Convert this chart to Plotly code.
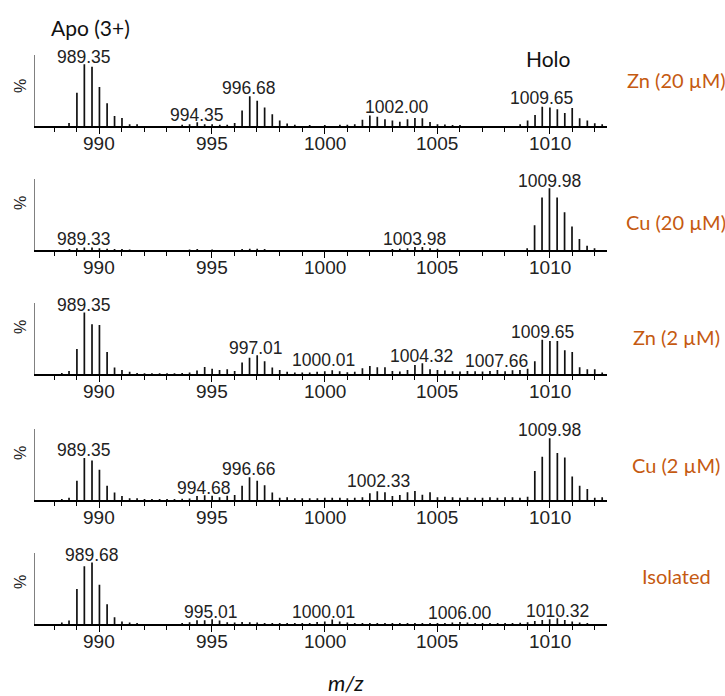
import plotly.graph_objects as go

W, H = 725, 696

# ---------------- data ----------------
panel_names = ["Zn (20 µM)", "Cu (20 µM)", "Zn (2 µM)", "Cu (2 µM)", "Isolated"]

zn20_mz = [988.66, 989.01, 989.34, 989.68, 990.01, 990.35, 990.68, 991.01, 991.35, 991.68,
           993.68, 994.01, 994.35, 994.68, 995.01, 995.35, 995.68, 996.01, 996.34, 996.68,
           997.01, 997.34, 997.68, 998.01, 998.34, 998.68, 999.34, 1000.01, 1000.68, 1001.01,
           1001.34, 1001.68, 1002.01, 1002.34, 1002.68, 1003.01, 1003.34, 1003.68, 1004.01, 1004.34,
           1004.68, 1005.01, 1005.34, 1005.68, 1006.01, 1008.68, 1009.01, 1009.34, 1009.66, 1010.00,
           1010.33, 1010.66, 1010.99, 1011.32, 1011.66, 1011.99, 1012.32]
zn20_int = [5, 54, 100, 96, 63, 37, 16, 13, 3, 3,
            2, 3, 6, 3, 3, 2, 2, 5, 25, 48,
            41, 30, 19, 9, 4, 2, 1.5, 1.5, 2, 2,
            3, 10, 17, 15, 11, 9, 7, 11, 13, 12.5,
            6.5, 3, 2.5, 1.5, 1.5, 3, 9, 18, 31, 30,
            27, 21, 29, 12.5, 9, 4.5, 3]

cu20_mz = [988.68, 989.01, 989.34, 989.68, 990.01, 990.35, 990.68, 991.01, 991.35,
           994.01, 994.35, 995.01, 996.34, 996.68, 997.01, 997.34,
           1003.01, 1003.34, 1003.68, 1004.01, 1004.34, 1004.68, 1005.01,
           1008.99, 1009.32, 1009.65, 1009.98, 1010.32, 1010.65, 1010.98, 1011.31, 1011.65, 1011.98]
cu20_int = [1.5, 3, 4, 4, 3, 2, 1.5, 1.5, 1,
            1, 1.5, 1, 1.5, 2, 2, 1.5,
            1.5, 2, 3, 5, 5, 3, 2,
            3, 40, 85, 100, 85, 61, 38, 18, 7, 3]

zn2_mz = [988.34, 988.66, 989.01, 989.34, 989.68, 990.01, 990.35, 990.68, 991.01, 991.35, 991.68,
          992.01, 992.34, 992.68, 993.01, 993.34, 993.68, 994.01,
          994.34, 994.68, 995.01, 995.34, 995.68, 996.01, 996.34, 996.67, 997.01, 997.34, 997.68,
          998.01, 998.34, 998.68, 999.01, 999.34, 999.67, 1000.01, 1000.34, 1000.67, 1001.01, 1001.34,
          1001.68, 1002.01, 1002.34, 1002.68, 1003.01, 1003.34, 1003.68, 1004.01, 1004.34, 1004.68,
          1005.01, 1005.34, 1005.68, 1006.01, 1006.34, 1006.68, 1007.01, 1007.34, 1007.67, 1008.01,
          1008.34, 1008.67, 1009.01, 1009.33, 1009.66, 1010.00, 1010.33, 1010.66, 1010.99, 1011.32,
          1011.66, 1011.99, 1012.32]
zn2_int = [2, 5.4, 41, 100, 81, 80, 36, 11, 7, 4, 2,
           1.5, 1.5, 1.5, 1.5, 1.5, 2, 3,
           6, 12, 9, 7, 8, 5.4, 19, 27, 31, 21, 11,
           7, 4, 3, 3, 3, 4, 5, 6.5, 5, 3.5, 4,
           10, 13.5, 11.4, 11.4, 5.4, 4.4, 7, 15, 18, 8,
           7, 6, 5, 4.4, 5.4, 5, 4.4, 5.4, 7, 5,
           6.5, 7, 9, 21, 56, 54, 54, 39, 36, 11.4,
           8, 8, 3]

cu2_mz = [988.34, 988.66, 989.01, 989.34, 989.68, 990.01, 990.35, 990.68, 991.01, 991.35, 991.68,
          992.01, 992.34, 992.68, 993.01, 993.34, 993.68, 994.01,
          994.34, 994.68, 995.01, 995.34, 995.68, 996.01, 996.34, 996.67, 997.01, 997.34, 997.68,
          998.01, 998.34, 998.68, 999.01, 999.34, 999.68, 1000.01, 1000.34, 1000.68, 1001.01, 1001.34,
          1001.68, 1002.01, 1002.34, 1002.68, 1003.01, 1003.34, 1003.68, 1004.01, 1004.34, 1004.68,
          1005.01, 1005.34, 1005.68, 1006.01, 1006.34, 1006.68, 1007.01, 1007.34, 1007.67, 1008.01,
          1008.34, 1008.67, 1009.01, 1009.33, 1009.66, 1009.99, 1010.33, 1010.66, 1010.99, 1011.32,
          1011.66, 1011.99, 1012.32]
cu2_int = [1.5, 3.7, 31, 68, 64, 49, 23, 12, 6.5, 3, 3,
           1.5, 1.5, 1.5, 1.5, 1.5, 2, 2.5,
           6.5, 7.6, 7, 4.4, 7, 8, 23, 37, 31, 24, 12,
           3.7, 4.4, 3, 3, 3, 3, 3.5, 3.5, 3.5, 3, 3.5,
           4.4, 11, 14, 12.5, 6.5, 8, 12.5, 14.6, 8.6, 12.5,
           4.4, 5.4, 4.4, 3.7, 4.4, 3.7, 3.7, 4.4, 3.7, 4.4,
           4.4, 3.7, 5.4, 47, 70, 100, 76, 69, 38, 23,
           18, 3.7, 4.4]

iso_mz = [988.34, 988.66, 989.01, 989.34, 989.68, 990.01, 990.35, 990.68, 991.01, 991.35, 991.68,
          993.68, 994.01, 994.34, 994.68, 995.01, 995.34, 995.68, 996.01, 996.34, 996.68,
          997.01, 997.34, 997.68, 998.01, 998.34, 998.68, 999.01, 999.34,
          999.67, 1000.01, 1000.34, 1000.67, 1001.01, 1001.34, 1001.68, 1002.01, 1002.34, 1002.68,
          1003.01, 1003.34, 1003.68, 1004.01, 1004.34, 1004.68, 1005.01, 1005.34, 1005.67, 1006.01,
          1006.34, 1006.68, 1007.01, 1007.34, 1007.68, 1008.01, 1008.34, 1008.68, 1009.01, 1009.33,
          1009.66, 1009.99, 1010.33, 1010.66, 1010.99, 1011.32, 1011.66]
iso_int = [2.8, 6, 57, 94, 100, 64, 32.5, 11.4, 4.4, 2.8, 2,
           2, 3.3, 6.5, 6.5, 8, 6, 3.3, 2.8, 3.7, 3.3,
           2.8, 2, 2, 2, 2, 2, 2, 2,
           3.7, 4.4, 7.6, 4.4, 2.8, 2, 2, 2, 2, 2,
           2, 2, 2, 2, 2, 2, 2, 2, 2.8, 3.7,
           2.8, 2, 2, 2, 2, 2, 2, 2.5, 3.3, 5.4,
           7, 8, 10, 7, 4.4, 2.8, 2]

spectra_mz = [zn20_mz, cu20_mz, zn2_mz, cu2_mz, iso_mz]
spectra_int = [zn20_int, cu20_int, zn2_int, cu2_int, iso_int]

# peak labels: text, x position (m/z), y position (% of tallest peak)
zn20_lbl = ["989.35", "994.35", "996.68", "1002.00", "1009.65"]
zn20_lbl_x = [989.33, 994.35, 996.65, 1003.2, 1009.64]
zn20_lbl_y = [112, 18, 62, 31, 45]

cu20_lbl = ["989.33", "1003.98", "1009.98"]
cu20_lbl_x = [989.31, 1004.0, 1009.99]
cu20_lbl_y = [18, 18, 111]

zn2_lbl = ["989.35", "997.01", "1000.01", "1004.32", "1007.66", "1009.65"]
zn2_lbl_x = [989.32, 996.97, 999.97, 1004.31, 1007.64, 1009.66]
zn2_lbl_y = [113, 42, 23, 30, 22, 68]

cu2_lbl = ["989.35", "994.68", "996.66", "1002.33", "1009.98"]
cu2_lbl_x = [989.32, 994.64, 996.64, 1002.38, 1009.99]
cu2_lbl_y = [81, 19, 50, 30, 113]

iso_lbl = ["989.68", "995.01", "1000.01", "1006.00", "1010.32"]
iso_lbl_x = [989.66, 994.97, 999.97, 1005.99, 1010.34]
iso_lbl_y = [113, 20, 20, 19, 22]

labels_txt = [zn20_lbl, cu20_lbl, zn2_lbl, cu2_lbl, iso_lbl]
labels_x = [zn20_lbl_x, cu20_lbl_x, zn2_lbl_x, cu2_lbl_x, iso_lbl_x]
labels_y = [zn20_lbl_y, cu20_lbl_y, zn2_lbl_y, cu2_lbl_y, iso_lbl_y]

x_range = [987.15, 1012.52]
tick_vals = [990, 995, 1000, 1005, 1010]
tick_text = ["990", "995", "1000", "1005", "1010"]

# ---------------- layout geometry (pixels) ----------------
baselines_px = [126, 250, 374.3, 500, 624.3]
axis_h_px = 71
tick_label_gap_px = 17
pct_label_px = [86, 203, 327, 453, 582]
name_label_px = [80, 222, 337, 465, 576]
x_left_px, x_right_px = 35, 606.7

ORANGE = "#C55A11"
ARIAL = "Liberation Sans, Arial, sans-serif"
CAL = "Lato, Open Sans, sans-serif"

fig = go.Figure()
annotations = []
layout = dict(
    width=W, height=H, margin=dict(l=0, r=0, t=0, b=0),
    paper_bgcolor="white", plot_bgcolor="white", showlegend=False,
)

def py(px):
    return 1 - px / H

for i in range(5):
    k = "" if i == 0 else str(i + 1)
    xs, ys = [], []
    for m, v in zip(spectra_mz[i], spectra_int[i]):
        xs += [m, m, None]
        ys += [0, v, None]
    fig.add_trace(go.Scatter(x=xs, y=ys, mode="lines", xaxis="x" + k, yaxis="y" + k,
                             line=dict(color="#111111", width=1.7), hoverinfo="skip"))
    b = baselines_px[i]
    layout["xaxis" + k] = dict(
        domain=[x_left_px / W, x_right_px / W], anchor="y" + k, range=x_range,
        showline=True, linecolor="black", linewidth=2.2 if i == 0 else 1.8,
        showgrid=False, zeroline=False,
        tickmode="array", tickvals=tick_vals, showticklabels=False,
        ticks="outside", ticklen=6, tickwidth=1.2, tickcolor="black",
        minor=dict(dtick=1, tick0=990, ticks="outside", ticklen=4, tickwidth=1, tickcolor="black"),
    )
    layout["yaxis" + k] = dict(
        domain=[py(b), py(b - axis_h_px)], anchor="x" + k, range=[0, 115],
        showline=True, linecolor="#808080", linewidth=1.2,
        showgrid=False, zeroline=False, showticklabels=False, ticks="",
    )
    for tv, tt in zip(tick_vals, tick_text):
        annotations.append(dict(x=tv, y=py(b + tick_label_gap_px), xref="x" + k, yref="paper",
                                text=tt, showarrow=False, xanchor="center", yanchor="middle",
                                font=dict(family=ARIAL, size=19, color="#222222")))
    for t, lx, ly in zip(labels_txt[i], labels_x[i], labels_y[i]):
        annotations.append(dict(x=lx, y=ly, xref="x" + k, yref="y" + k, text=t,
                                showarrow=False, xanchor="center", yanchor="middle",
                                font=dict(family=ARIAL, size=17.5, color="#222222")))
    annotations.append(dict(x=20 / W, y=py(pct_label_px[i]), xref="paper", yref="paper",
                            text="%", textangle=-90, showarrow=False,
                            xanchor="center", yanchor="middle",
                            font=dict(family=ARIAL, size=16, color="#222222")))
    annotations.append(dict(x=676 / W, y=py(name_label_px[i]), xref="paper", yref="paper",
                            text=panel_names[i], showarrow=False,
                            xanchor="center", yanchor="middle",
                            font=dict(family=CAL, size=20, color=ORANGE)))

annotations.append(dict(x=90 / W, y=py(27), xref="paper", yref="paper", text="Apo (3+)",
                        showarrow=False, xanchor="center", yanchor="middle",
                        font=dict(family=CAL, size=21, color="#111111")))
annotations.append(dict(x=548 / W, y=py(58), xref="paper", yref="paper", text="Holo",
                        showarrow=False, xanchor="center", yanchor="middle",
                        font=dict(family=CAL, size=21, color="#111111")))
annotations.append(dict(x=346 / W, y=py(682), xref="paper", yref="paper", text="<i>m/z</i>",
                        showarrow=False, xanchor="center", yanchor="middle",
                        font=dict(family=CAL, size=22, color="#111111")))

layout["annotations"] = annotations
fig.update_layout(**layout)
fig.write_html("out.html")
